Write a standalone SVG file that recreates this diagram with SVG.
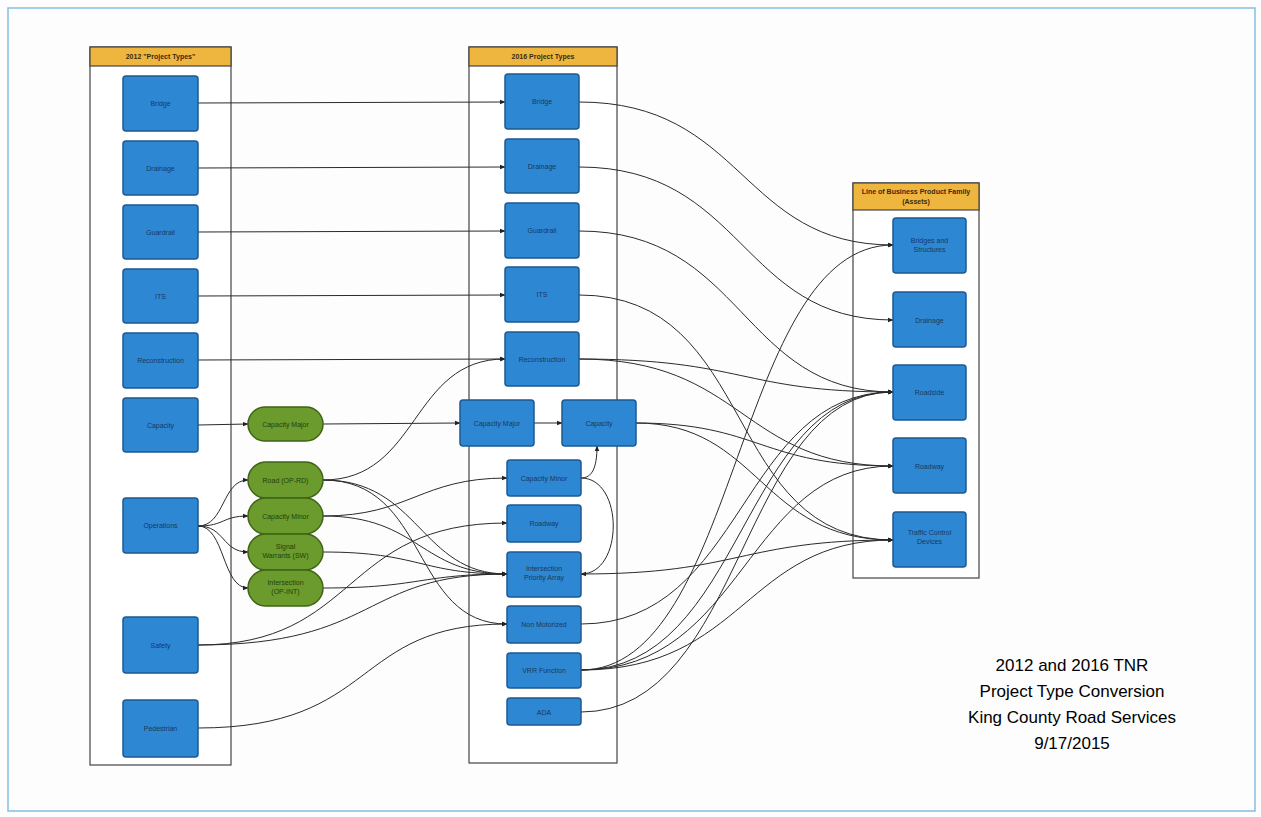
<svg xmlns="http://www.w3.org/2000/svg" width="1261" height="817" viewBox="0 0 1261 817">
<defs>
<marker id="ah" viewBox="0 0 10 10" refX="9" refY="5" markerWidth="6" markerHeight="6" orient="auto" markerUnits="userSpaceOnUse">
<path d="M0,1 L10,5 L0,9 z" fill="#222"/>
</marker>
<style>
.bg{fill:#fdfdfd}
.frame{fill:none;stroke:#86bde3;stroke-width:1.5}
.cont{fill:#ffffff;stroke:#444;stroke-width:1.2}
.hdr{fill:#efb63f;stroke:#444;stroke-width:1.2}
.hdrt{font-family:"Liberation Sans",Arial,sans-serif;font-size:7px;font-weight:bold;fill:#3a2a10;text-anchor:middle}
.box{fill:#2e87d3;stroke:#1d5a92;stroke-width:1.5}
.grn{fill:#6b9b2c;stroke:#3f6418;stroke-width:1.5}
.lbl{font-family:"Liberation Sans",Arial,sans-serif;font-size:7px;fill:#163a5e;text-anchor:middle}
.glbl{font-family:"Liberation Sans",Arial,sans-serif;font-size:7px;fill:#25400c;text-anchor:middle}
.c{fill:none;stroke:#2a2a2a;stroke-width:1;marker-end:url(#ah)}
.t{font-family:"Liberation Sans",Arial,sans-serif;font-size:17px;fill:#000;text-anchor:middle}
</style>
</defs>
<rect class="bg" x="0" y="0" width="1261" height="817"/>
<rect class="frame" x="8" y="8" width="1247" height="803"/>

<g id="containers">
<g id="col2012">
<rect class="cont" x="90" y="47" width="141" height="718"/>
<rect class="hdr" x="90" y="47" width="141" height="19"/>
<text class="hdrt" x="160.5" y="59">2012 "Project Types"</text>
</g>
<g id="col2016">
<rect class="cont" x="469" y="47" width="148" height="716"/>
<rect class="hdr" x="469" y="47" width="148" height="19"/>
<text class="hdrt" x="543" y="59">2016 Project Types</text>
</g>
<g id="colLOB">
<rect class="cont" x="853" y="183" width="126" height="395"/>
<rect class="hdr" x="853" y="183" width="126" height="27"/>
<text class="hdrt" x="916" y="194">Line of Business Product Family</text>
<text class="hdrt" x="916" y="204">(Assets)</text>
</g>
</g>

<g id="connectors">
<!-- 2012 to 2016 straight -->
<path class="c" d="M198,103 L505,102"/>
<path class="c" d="M198,168 L505,167"/>
<path class="c" d="M198,232 L505,231"/>
<path class="c" d="M198,296 L505,295"/>
<path class="c" d="M198,360 L505,359"/>
<!-- capacity chain -->
<path class="c" d="M198,425 L248,424"/>
<path class="c" d="M323,424 L460,423"/>
<path class="c" d="M534,423 L562,423"/>
<!-- operations fan -->
<path class="c" d="M198,526 C225,526 222,480 248,480"/>
<path class="c" d="M198,526 C225,526 222,516 248,516"/>
<path class="c" d="M198,526 C225,526 222,552 248,552"/>
<path class="c" d="M198,526 C225,526 222,588 248,588"/>
<!-- green to 2016 -->
<path class="c" d="M323,480 C420,480 410,359 505,359"/>
<path class="c" d="M323,480 C430,480 410,624 507,624"/>
<path class="c" d="M323,480 C420,480 420,574 507,574"/>
<path class="c" d="M323,516 C410,516 420,478 507,478"/>
<path class="c" d="M323,516 C420,516 420,574 507,574"/>
<path class="c" d="M323,552 C420,552 420,574 507,574"/>
<path class="c" d="M323,588 C420,588 420,574 507,574"/>
<path class="c" d="M198,645 C360,645 340,523 507,523"/>
<path class="c" d="M198,645 C380,645 360,574 507,574"/>
<path class="c" d="M198,728 C380,728 350,624 507,624"/>
<!-- within 2016 -->
<path class="c" d="M581,478 C592,478 597,468 597,446"/>
<path class="c" d="M581,478 C624,478 624,574 581,574"/>
<!-- 2016 to LOB -->
<path class="c" d="M579,102 C745,102 740,245 893,245"/>
<path class="c" d="M579,167 C745,167 740,320 893,320"/>
<path class="c" d="M579,231 C745,231 740,392 893,392"/>
<path class="c" d="M579,295 C760,295 720,540 893,540"/>
<path class="c" d="M579,359 C745,359 740,392 893,392"/>
<path class="c" d="M579,359 C745,359 740,466 893,466"/>
<path class="c" d="M636,423 C760,423 760,466 893,466"/>
<path class="c" d="M636,423 C760,423 760,540 893,540"/>
<path class="c" d="M581,574 C740,574 740,540 893,540"/>
<path class="c" d="M581,624 C745,624 740,392 893,392"/>
<path class="c" d="M581,670 C740,670 735,245 893,245"/>
<path class="c" d="M581,670 C745,670 740,392 893,392"/>
<path class="c" d="M581,670 C745,670 745,466 893,466"/>
<path class="c" d="M581,670 C745,670 745,540 893,540"/>
<path class="c" d="M581,712 C745,712 740,392 893,392"/>
</g>

<g id="n2012-bridge"><rect class="box" x="123" y="76" width="75" height="55" rx="3"/><text class="lbl" x="160.5" y="106">Bridge</text></g>
<g id="n2012-drainage"><rect class="box" x="123" y="141" width="75" height="54" rx="3"/><text class="lbl" x="160.5" y="171">Drainage</text></g>
<g id="n2012-guardrail"><rect class="box" x="123" y="205" width="75" height="54" rx="3"/><text class="lbl" x="160.5" y="235">Guardrail</text></g>
<g id="n2012-its"><rect class="box" x="123" y="269" width="75" height="54" rx="3"/><text class="lbl" x="160.5" y="299">ITS</text></g>
<g id="n2012-reconstruction"><rect class="box" x="123" y="333" width="75" height="55" rx="3"/><text class="lbl" x="160.5" y="363">Reconstruction</text></g>
<g id="n2012-capacity"><rect class="box" x="123" y="398" width="75" height="54" rx="3"/><text class="lbl" x="160.5" y="428">Capacity</text></g>
<g id="n2012-operations"><rect class="box" x="123" y="498" width="75" height="55" rx="3"/><text class="lbl" x="160.5" y="528">Operations</text></g>
<g id="n2012-safety"><rect class="box" x="123" y="617" width="75" height="56" rx="3"/><text class="lbl" x="160.5" y="648">Safety</text></g>
<g id="n2012-pedestrian"><rect class="box" x="123" y="700" width="75" height="57" rx="3"/><text class="lbl" x="160.5" y="731">Pedestrian</text></g>

<g id="g-capmajor"><rect class="grn" x="248" y="407" width="75" height="34" rx="17"/><text class="glbl" x="285.5" y="427">Capacity Major</text></g>
<g id="g-road"><rect class="grn" x="248" y="462" width="75" height="36" rx="18"/><text class="glbl" x="285.5" y="483">Road (OP-RD)</text></g>
<g id="g-capminor"><rect class="grn" x="248" y="498" width="75" height="36" rx="18"/><text class="glbl" x="285.5" y="519">Capacity Minor</text></g>
<g id="g-signal"><rect class="grn" x="248" y="534" width="75" height="36" rx="18"/><text class="glbl" x="285.5" y="549">Signal</text><text class="glbl" x="285.5" y="558">Warrants (SW)</text></g>
<g id="g-intersection"><rect class="grn" x="248" y="570" width="75" height="36" rx="18"/><text class="glbl" x="285.5" y="585">Intersection</text><text class="glbl" x="285.5" y="594">(OP-INT)</text></g>

<g id="n2016-bridge"><rect class="box" x="505" y="74" width="74" height="55" rx="3"/><text class="lbl" x="542" y="104">Bridge</text></g>
<g id="n2016-drainage"><rect class="box" x="505" y="139" width="74" height="54" rx="3"/><text class="lbl" x="542" y="169">Drainage</text></g>
<g id="n2016-guardrail"><rect class="box" x="505" y="203" width="74" height="55" rx="3"/><text class="lbl" x="542" y="233">Guardrail</text></g>
<g id="n2016-its"><rect class="box" x="505" y="267" width="74" height="55" rx="3"/><text class="lbl" x="542" y="297">ITS</text></g>
<g id="n2016-reconstruction"><rect class="box" x="505" y="332" width="74" height="54" rx="3"/><text class="lbl" x="542" y="362">Reconstruction</text></g>
<g id="n2016-capmajor"><rect class="box" x="460" y="400" width="74" height="46" rx="3"/><text class="lbl" x="497" y="426">Capacity Major</text></g>
<g id="n2016-capacity"><rect class="box" x="562" y="400" width="74" height="46" rx="3"/><text class="lbl" x="599" y="426">Capacity</text></g>
<g id="n2016-capminor"><rect class="box" x="507" y="460" width="74" height="36" rx="3"/><text class="lbl" x="544" y="481">Capacity Minor</text></g>
<g id="n2016-roadway"><rect class="box" x="507" y="505" width="74" height="37" rx="3"/><text class="lbl" x="544" y="526">Roadway</text></g>
<g id="n2016-ipa"><rect class="box" x="507" y="552" width="74" height="45" rx="3"/><text class="lbl" x="544" y="571">Intersection</text><text class="lbl" x="544" y="580">Priority Array</text></g>
<g id="n2016-nonmotorized"><rect class="box" x="507" y="606" width="74" height="37" rx="3"/><text class="lbl" x="544" y="627">Non Motorized</text></g>
<g id="n2016-vrr"><rect class="box" x="507" y="653" width="74" height="35" rx="3"/><text class="lbl" x="544" y="673">VRR Function</text></g>
<g id="n2016-ada"><rect class="box" x="507" y="698" width="74" height="27" rx="3"/><text class="lbl" x="544" y="715">ADA</text></g>

<g id="lob-bridges"><rect class="box" x="893" y="218" width="73" height="55" rx="3"/><text class="lbl" x="929.5" y="243">Bridges and</text><text class="lbl" x="929.5" y="252">Structures</text></g>
<g id="lob-drainage"><rect class="box" x="893" y="292" width="73" height="55" rx="3"/><text class="lbl" x="929.5" y="323">Drainage</text></g>
<g id="lob-roadside"><rect class="box" x="893" y="365" width="73" height="55" rx="3"/><text class="lbl" x="929.5" y="395">Roadside</text></g>
<g id="lob-roadway"><rect class="box" x="893" y="438" width="73" height="55" rx="3"/><text class="lbl" x="929.5" y="469">Roadway</text></g>
<g id="lob-tcd"><rect class="box" x="893" y="512" width="73" height="55" rx="3"/><text class="lbl" x="929.5" y="535">Traffic Control</text><text class="lbl" x="929.5" y="544">Devices</text></g>

<g id="title">
<text class="t" x="1072" y="671">2012 and 2016 TNR</text>
<text class="t" x="1072" y="697">Project Type Conversion</text>
<text class="t" x="1072" y="723">King County Road Services</text>
<text class="t" x="1072" y="749">9/17/2015</text>
</g>
</svg>
